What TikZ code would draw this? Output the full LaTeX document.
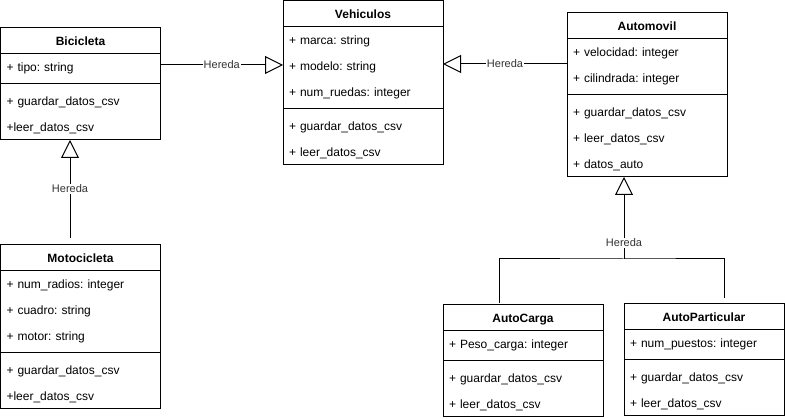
\documentclass[tikz,border=0pt]{standalone}
\usepackage{fontspec}
\setmainfont{Liberation Sans}
\usetikzlibrary{arrows.meta}
\frenchspacing

\newcommand{\fila}[1]{\rule[-4pt]{0pt}{14pt}#1}

\begin{document}
\begin{tikzpicture}[x=1pt, y=-1pt,
    titulo/.style={draw, line width=1pt, fill=white, anchor=north west, minimum width=160pt,
      minimum height=26pt, inner sep=0pt, outer sep=0pt, text height=8.6pt, text depth=0pt,
      font={\fontsize{12}{14}\selectfont\bfseries}},
    campos/.style={draw, line width=1pt, fill=white, anchor=north, minimum width=160pt,
      text width=148pt, inner xsep=6pt, inner ysep=0pt, outer sep=0pt, align=left,
      font={\fontsize{12}{26}\selectfont}},
    metodos/.style={campos, execute at begin node={\rule{0pt}{18pt}}},
    hereda/.style={line width=1pt, -{Triangle[open, length=18pt, width=18pt]}},
    etiqueta/.style={fill=white, inner sep=1pt, text=black!80, font={\fontsize{11}{13}\selectfont}}]
    \useasboundingbox (0,0) rectangle (785,419);
    % Vehiculos
    \node[titulo] (veh) at (283,1) {Vehiculos};
    \node[campos, minimum height=82pt] (veh-a) at (veh.south)
      {\fila{+ marca: string}\\\fila{+ modelo: string}\\\fila{+ num\_ruedas: integer}};
    \node[metodos, minimum height=56pt] (veh-m) at (veh-a.south)
      {\fila{+ guardar\_datos\_csv}\\\fila{+ leer\_datos\_csv}};
    % Bicicleta
    \node[titulo] (bici) at (0.5,28) {Bicicleta};
    \node[campos, minimum height=30pt] (bici-a) at (bici.south) {\fila{+ tipo: string}};
    \node[metodos, minimum height=56pt] (bici-m) at (bici-a.south)
      {\fila{+ guardar\_datos\_csv}\\\fila{+leer\_datos\_csv}};
    % Automovil
    \node[titulo] (auto) at (567,13) {Automovil};
    \node[campos, minimum height=56pt] (auto-a) at (auto.south)
      {\fila{+ velocidad: integer}\\\fila{+ cilindrada: integer}};
    \node[metodos, minimum height=82pt] (auto-m) at (auto-a.south)
      {\fila{+ guardar\_datos\_csv}\\\fila{+ leer\_datos\_csv}\\\fila{+ datos\_auto}};
    % Motocicleta
    \node[titulo] (moto) at (0.5,245) {Motocicleta};
    \node[campos, minimum height=82pt] (moto-a) at (moto.south)
      {\fila{+ num\_radios: integer}\\\fila{+ cuadro: string}\\\fila{+ motor: string}};
    \node[metodos, minimum height=56pt] (moto-m) at (moto-a.south)
      {\fila{+ guardar\_datos\_csv}\\\fila{+leer\_datos\_csv}};
    % AutoCarga
    \node[titulo] (carga) at (443,305) {AutoCarga};
    \node[campos, minimum height=30pt] (carga-a) at (carga.south) {\fila{+ Peso\_carga: integer}};
    \node[metodos, minimum height=56pt] (carga-m) at (carga-a.south)
      {\fila{+ guardar\_datos\_csv}\\\fila{+ leer\_datos\_csv}};
    % AutoParticular
    \node[titulo] (part) at (624,304) {AutoParticular};
    \node[campos, minimum height=30pt] (part-a) at (part.south) {\fila{+ num\_puestos: integer}};
    \node[metodos, minimum height=56pt] (part-m) at (part-a.south)
      {\fila{+ guardar\_datos\_csv}\\\fila{+ leer\_datos\_csv}};
    % herencia
    \coordinate (h-bici) at (221,65);
    \coordinate (h-auto) at (504,64);
    \coordinate (h-moto) at (70,238);
    \coordinate (r-carga) at (499,303);
    \coordinate (r-part) at (724,298);
    \coordinate (r-union) at (624,259);
    \draw[hereda] (bici-a.east |- h-bici) -- node[etiqueta] {Hereda} (veh-a.west |- h-bici);
    \draw[hereda] (auto-a.west |- h-auto) -- node[etiqueta] {Hereda} (veh-a.east |- h-auto);
    \draw[hereda] (h-moto) -- node[etiqueta] {Hereda} (h-moto |- bici-m.south);
    \draw[line width=1pt] (r-carga) |- (r-union) -| (r-part);
    \draw[hereda] (r-union) -- node[etiqueta, pos=0.2] {Hereda} (r-union |- auto-m.south);
\end{tikzpicture}
\end{document}
